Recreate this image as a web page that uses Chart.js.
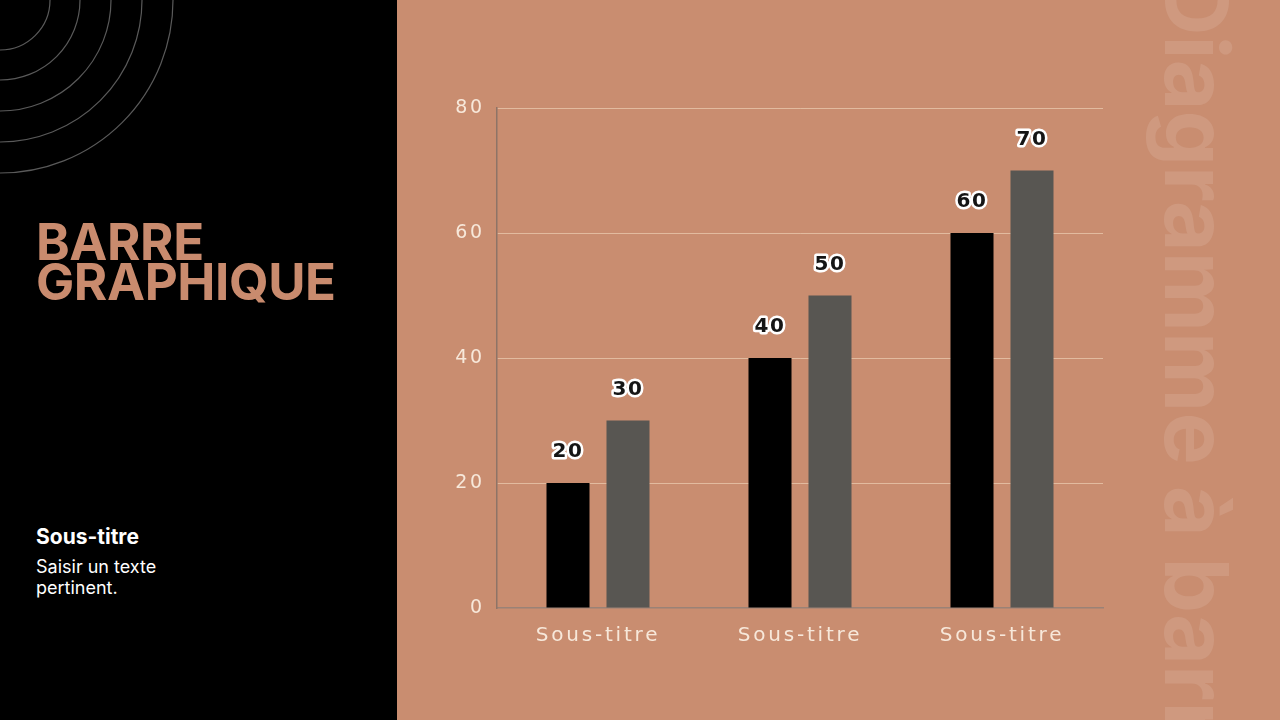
<!DOCTYPE html>
<html lang="fr">
<head>
<meta charset="utf-8">
<script src="https://cdn.jsdelivr.net/npm/chart.js@4.4.1/dist/chart.umd.min.js"></script>
<style>
  html, body { margin: 0; padding: 0; }
  body { width: 1280px; height: 720px; overflow: hidden; position: relative; background: #000; font-family: Inter, "Noto Sans", sans-serif; }
  #gauche { position: absolute; left: 0; top: 0; width: 397px; height: 720px; background: #000; }
  #droite { position: absolute; left: 397px; top: 0; width: 883px; height: 720px; background: #c98d70; overflow: hidden; }
  #titre { position: absolute; left: 36px; top: 222px; color: #c98b6e; font-weight: 700; font-size: 51px; line-height: 40px; letter-spacing: -0.4px; }
  #sous { position: absolute; left: 36px; top: 524px; color: #fff; font-weight: 700; font-size: 21px; line-height: 26px; }
  #texte { position: absolute; left: 36px; top: 556px; color: #fff; font-size: 18px; line-height: 21px; }
  #vertical { position: absolute; left: 750px; top: -28px; writing-mode: vertical-rl; color: rgba(255,255,255,0.11); font-weight: 700; font-size: 88px; line-height: 100px; white-space: nowrap; }
  #graphique { position: absolute; left: 0; top: 0; }
</style>
</head>
<body>
<div id="gauche">
  <svg width="397" height="720" style="position:absolute;left:0;top:0">
    <g fill="none" stroke="#5a5a5a" stroke-width="1.2">
      <circle cx="0" cy="0" r="50"/>
      <circle cx="0" cy="0" r="80"/>
      <circle cx="0" cy="0" r="111"/>
      <circle cx="0" cy="0" r="142"/>
      <circle cx="0" cy="0" r="173"/>
    </g>
  </svg>
  <div id="titre">BARRE<br>GRAPHIQUE</div>
  <div id="sous">Sous-titre</div>
  <div id="texte">Saisir un texte<br>pertinent.</div>
</div>
<div id="droite">
  <div id="vertical">Diagramme à barres</div>
  <canvas id="graphique" width="883" height="720"></canvas>
</div>
<script>
// Données du graphique
const categories = ['Sous-titre', 'Sous-titre', 'Sous-titre'];
const serie1 = [20, 40, 60];
const serie2 = [30, 50, 70];
const graduations = [0, 20, 40, 60, 80];

const ctx = document.getElementById('graphique').getContext('2d');

// Étiquettes de valeur au-dessus des barres (texte noir, contour blanc)
const etiquettes = {
    id: 'etiquettes',
    afterDatasetsDraw(chart) {
        const c = chart.ctx;
        c.save();
        c.font = 'bold 20px "DejaVu Sans"';
        c.letterSpacing = '1.5px';
        c.textAlign = 'center';
        c.textBaseline = 'middle';
        c.lineJoin = 'round';
        chart.data.datasets.forEach((ds, i) => {
            chart.getDatasetMeta(i).data.forEach((bar, j) => {
                const txt = String(ds.data[j]);
                c.lineWidth = 5;
                c.strokeStyle = '#ffffff';
                c.strokeText(txt, bar.x, bar.y - 31);
                c.fillStyle = '#151515';
                c.fillText(txt, bar.x, bar.y - 31);
            });
        });
        c.restore();
    }
};

// Espacement des lettres pour imiter la police large des axes
const espacement = {
    id: 'espacement',
    beforeInit(chart) { chart.ctx.letterSpacing = '2.8px'; },
    beforeDraw(chart) { chart.ctx.letterSpacing = '2.8px'; }
};

new Chart(ctx, {
    type: 'bar',
    data: {
        labels: categories,
        datasets: [
            { label: 'Série 1', data: serie1, backgroundColor: '#000000', categoryPercentage: 0.594, barPercentage: 0.717 },
            { label: 'Série 2', data: serie2, backgroundColor: '#585652', categoryPercentage: 0.594, barPercentage: 0.717 }
        ]
    },
    options: {
        responsive: false,
        animation: false,
        layout: { padding: { left: 40, right: 177, top: 108, bottom: 62 } },
        plugins: { legend: { display: false }, tooltip: { enabled: false } },
        scales: {
            x: {
                grid: { display: false },
                border: { color: '#9a8276', width: 1.5 },
                ticks: { color: '#f7e8da', font: { family: 'DejaVu Sans', size: 20 }, padding: 8 },
                afterFit: (s) => { s.height = 50; }
            },
            y: {
                min: 0,
                max: 80,
                afterBuildTicks: (s) => { s.ticks = graduations.map(v => ({ value: v })); },
                grid: {
                    color: (c) => c.tick && c.tick.value === 0 ? 'rgba(0,0,0,0)' : 'rgba(240,212,185,0.65)',
                    lineWidth: 1,
                    drawTicks: false
                },
                border: { color: '#8e7467', width: 1.5 },
                ticks: { color: '#f7e8da', font: { family: 'DejaVu Sans', size: 19 }, padding: 12 },
                afterFit: (s) => { s.width = 60; }
            }
        }
    },
    plugins: [espacement, etiquettes]
});
</script>
</body>
</html>
